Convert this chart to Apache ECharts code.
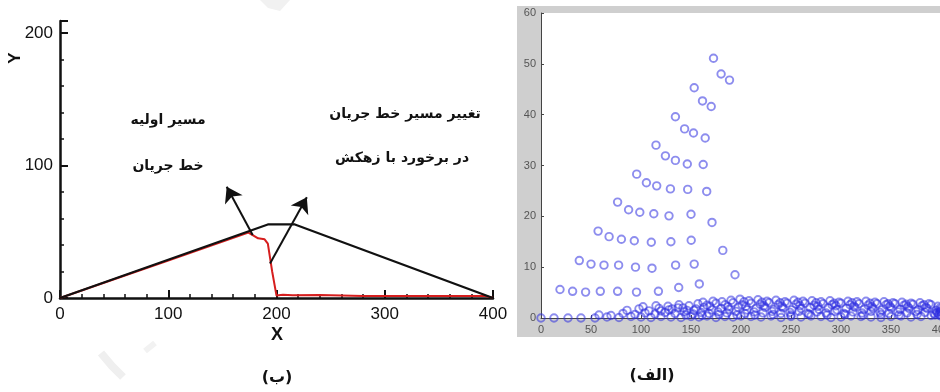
<!DOCTYPE html>
<html>
<head>
<meta charset="utf-8">
<script src="https://cdn.jsdelivr.net/npm/echarts@6/dist/echarts.min.js"></script>
<style>
  html, body { margin: 0; padding: 0; background: #fff; }
  #chart { width: 940px; height: 392px; }
</style>
</head>
<body>
<div id="chart"></div>
<script>
// Panel (ب): embankment outline and phreatic line
const damX = [0, 192, 217, 400];
const damY = [0, 55.5, 55.5, 0];
const flowX = [0, 100, 174, 178, 183, 189, 192, 196, 200, 206, 215, 240, 280, 320, 360, 392, 400];
const flowY = [0, 28.3, 49.3, 47.5, 45, 44.3, 41, 20, 1.8, 2.4, 2.0, 2.2, 1.6, 1.5, 1.5, 1.6, 0.2];
const arrowFrom = [[178, 47.5], [194, 26]];
const arrowTo = [[154, 84], [228, 76]];
const noteLeft = ['مسیر اولیه', 'خط جریان'];
const noteRight = ['تغییر مسیر خط جریان', 'در برخورد با زهکش'];

// Panel (الف): particle positions above the base
const upperPts = [
  [19, 5.6], [31.6, 5.25], [44.6, 5.1], [59.3, 5.25], [76.6, 5.25], [95.5, 5.1], [117.4, 5.25], [137.7, 6.0], [158.3, 6.7], [194, 8.5],
  [38.3, 11.3], [50, 10.6], [63, 10.4], [77.6, 10.4], [94.5, 10.0], [111, 9.8], [134.6, 10.4], [153.2, 10.6],
  [57.1, 17.1], [68.1, 16.0], [80.4, 15.5], [93.3, 15.2], [110.3, 14.9], [129.9, 15.0], [150.2, 15.3], [181.8, 13.3],
  [76.6, 22.8], [87.6, 21.3], [98.8, 20.8], [112.8, 20.5], [128, 20.1], [150, 20.4], [171, 18.8],
  [95.7, 28.3], [105.4, 26.6], [115.7, 26.0], [129.4, 25.4], [146.7, 25.3], [165.7, 24.9],
  [115, 34.0], [124.4, 31.9], [134.4, 31.0], [146.3, 30.3], [162.2, 30.2],
  [134.4, 39.6], [143.6, 37.2], [152.5, 36.4], [164.2, 35.4],
  [153.2, 45.3], [161.5, 42.7], [170.2, 41.6],
  [172.5, 51.1], [180.1, 48.0], [188.5, 46.8]
];
// Particles settled along the base
const basePts = [
  [0, 0], [13, 0], [27, 0], [40, 0], [54, 0], [66, 0.2], [78, 0.1], [90, 0.3], [100, 0.2], [110, 0.1],
  [120, 0.3], [130, 0.2], [140, 0.1], [150, 0.3], [158, 0.2], [166, 0.4], [175, 0.1], [184, 0.3], [192, 0.2], [200, 0.4],
  [210, 0.3], [220, 0.2], [230, 0.4], [240, 0.1], [250, 0.3], [260, 0.2], [270, 0.4], [280, 0.3], [290, 0.1], [300, 0.2],
  [310, 0.4], [320, 0.3], [330, 0.2], [340, 0.1], [350, 0.3], [360, 0.4], [370, 0.2], [380, 0.3], [390, 0.5], [398, 0.6],
  [58, 0.6], [70, 0.5], [82, 0.9], [94, 0.7], [104, 1.0], [114, 0.8], [124, 1.1], [134, 0.9], [143, 1.2], [152, 0.8],
  [160, 1.1], [168, 0.9], [177, 1.2], [186, 1.0], [195, 1.3], [204, 0.9], [213, 1.2], [222, 1.0], [231, 1.3], [240, 0.9],
  [249, 1.1], [258, 1.3], [267, 0.9], [276, 1.2], [285, 1.0], [294, 1.3], [303, 0.9], [312, 1.2], [321, 1.0], [330, 1.3],
  [339, 1.1], [348, 0.9], [357, 1.2], [366, 1.0], [375, 1.3], [384, 1.1], [393, 0.9], [399, 1.2],
  [86, 1.5], [98, 1.8], [108, 1.4], [118, 1.9], [128, 1.6], [137, 2.0], [146, 1.5], [155, 1.8], [163, 2.1], [171, 1.6],
  [180, 1.9], [188, 1.7], [197, 2.1], [206, 1.6], [215, 1.9], [224, 2.1], [233, 1.7], [242, 2.0], [251, 1.6], [260, 1.9],
  [269, 2.1], [278, 1.7], [287, 2.0], [296, 1.6], [305, 1.9], [314, 2.1], [323, 1.7], [332, 1.9], [341, 1.6], [350, 2.0],
  [359, 1.7], [368, 1.9], [377, 1.6], [386, 1.9], [395, 1.5], [400, 1.8],
  [102, 2.2], [115, 2.4], [127, 2.3], [138, 2.6], [148, 2.4], [157, 2.8], [166, 2.5], [175, 2.9], [184, 2.6], [192, 3.0],
  [201, 2.6], [210, 2.9], [219, 2.7], [228, 3.0], [237, 2.6], [246, 2.9], [255, 2.7], [264, 2.9], [273, 2.5], [282, 2.8],
  [291, 2.6], [300, 2.9], [309, 2.6], [318, 2.8], [327, 2.5], [336, 2.8], [345, 2.6], [354, 2.8], [363, 2.5], [372, 2.7],
  [381, 2.4], [390, 2.6], [397, 2.3],
  [162, 3.1], [172, 3.3], [181, 3.2], [190, 3.5], [199, 3.7], [208, 3.4], [217, 3.6], [226, 3.3], [235, 3.5], [244, 3.2],
  [253, 3.5], [262, 3.3], [271, 3.4], [280, 3.2], [289, 3.4], [298, 3.1], [307, 3.3], [316, 3.2], [325, 3.3], [334, 3.1],
  [343, 3.2], [352, 3.0], [361, 3.1], [370, 2.9], [379, 3.0], [388, 2.8],
  [398, 0.8], [400, 1.4], [400, 0.4], [399, 2.0], [396, 1.1],
  [145, 0.6], [153, 1.5], [161, 0.5], [169, 2.3], [178, 0.7], [187, 2.2], [196, 0.6], [205, 2.3], [214, 0.6], [223, 2.4],
  [232, 0.7], [241, 2.3], [250, 0.6], [259, 2.4], [268, 0.7], [277, 2.3], [286, 0.6], [295, 2.4], [304, 0.7], [313, 2.3],
  [322, 0.6], [331, 2.2], [340, 0.7], [349, 2.3], [358, 0.6], [367, 2.2], [376, 0.7], [385, 2.1], [394, 0.6],
  [120, 1.4], [131, 1.8], [142, 2.0], [203, 3.2], [221, 3.1], [239, 3.0], [257, 3.1], [275, 3.0], [293, 2.9], [311, 3.0],
  [329, 2.9], [347, 2.8], [365, 2.7], [383, 2.6]
];
const captionLeft = '(ب)';
const captionRight = '(الف)';

const chart = echarts.init(document.getElementById('chart'), null, { renderer: 'canvas' });

const narrow = "'Liberation Sans Narrow', 'Liberation Sans', Arial, sans-serif";
const persian = "'DejaVu Sans', sans-serif";

const leftAxisCommon = {
  axisLine: { show: true, onZero: false, lineStyle: { color: '#111', width: 2.5 } },
  axisTick: { show: true, inside: true, length: 8, lineStyle: { color: '#111', width: 2 } },
  minorTick: { show: true, splitNumber: 5, length: 4, lineStyle: { color: '#111', width: 1.5 } },
  axisLabel: { fontFamily: narrow, fontSize: 17, color: '#111' },
  splitLine: { show: false }
};

const rightAxisCommon = {
  axisLine: { show: true, onZero: false, lineStyle: { color: '#444', width: 1 } },
  axisTick: { show: true, inside: true, length: 3, lineStyle: { color: '#444', width: 1 } },
  axisLabel: { fontFamily: "'Liberation Sans', Arial, sans-serif", fontSize: 11, color: '#555' },
  splitLine: { show: false }
};

const option = {
  animation: false,
  backgroundColor: '#fff',
  grid: [
    { left: 60, top: 21, width: 433, height: 277, containLabel: false, outerBoundsMode: 'none' },
    { left: 541, top: 13, width: 400, height: 305, containLabel: false, outerBoundsMode: 'none',
      show: true, backgroundColor: '#fff', borderWidth: 0 }
  ],
  xAxis: [
    Object.assign({ gridIndex: 0, type: 'value', min: 0, max: 400, interval: 100 }, leftAxisCommon,
      { axisLabel: Object.assign({}, leftAxisCommon.axisLabel, { margin: 8 }) }),
    Object.assign({ gridIndex: 1, type: 'value', min: 0, max: 400, interval: 50 }, rightAxisCommon,
      { axisLabel: Object.assign({}, rightAxisCommon.axisLabel, { margin: 6 }) })
  ],
  yAxis: [
    Object.assign({ gridIndex: 0, type: 'value', min: 0, max: 209, interval: 100 }, leftAxisCommon,
      { axisLabel: Object.assign({}, leftAxisCommon.axisLabel, { margin: 7 }) }),
    Object.assign({ gridIndex: 1, type: 'value', min: 0, max: 60, interval: 10 }, rightAxisCommon,
      { axisLabel: Object.assign({}, rightAxisCommon.axisLabel, { margin: 5 }) })
  ],
  graphic: [
    // gray frame around the particle plot
    { type: 'rect', z: -10, shape: { x: 517, y: 6, width: 423, height: 331 }, style: { fill: '#cfcfcf' } },
    // faint marks on the page background
    { type: 'polygon', z: -5, shape: { points: [[260, 0], [290, 0], [280, 11], [268, 8]] }, style: { fill: '#f1f1f1' } },
    { type: 'polyline', z: -5, shape: { points: [[101, 353], [112, 366], [123, 377]] }, style: { stroke: '#efefef', lineWidth: 8, fill: null } },
    { type: 'polyline', z: -5, shape: { points: [[145, 351], [155, 343]] }, style: { stroke: '#f2f2f2', lineWidth: 6, fill: null } },
    // axis titles
    { type: 'text', x: 15, y: 58, rotation: Math.PI / 2, style: { text: 'Y', font: "bold 17px " + narrow, fill: '#111', align: 'center', verticalAlign: 'middle' } },
    { type: 'text', x: 277, y: 335, style: { text: 'X', font: "bold 18px " + narrow, fill: '#111', align: 'center', verticalAlign: 'middle' } },
    // notes
    { type: 'text', x: 168, y: 120, style: { text: noteLeft[0], font: "bold 14px " + persian, fill: '#111', align: 'center', verticalAlign: 'middle' } },
    { type: 'text', x: 168, y: 166, style: { text: noteLeft[1], font: "bold 14px " + persian, fill: '#111', align: 'center', verticalAlign: 'middle' } },
    { type: 'text', x: 405, y: 114, style: { text: noteRight[0], font: "bold 14px " + persian, fill: '#111', align: 'center', verticalAlign: 'middle' } },
    { type: 'text', x: 402, y: 158, style: { text: noteRight[1], font: "bold 14px " + persian, fill: '#111', align: 'center', verticalAlign: 'middle' } },
    // panel captions
    { type: 'text', x: 277, y: 378, style: { text: captionLeft, font: "bold 16px " + persian, fill: '#111', align: 'center', verticalAlign: 'middle' } },
    { type: 'text', x: 652, y: 376, style: { text: captionRight, font: "bold 16px " + persian, fill: '#111', align: 'center', verticalAlign: 'middle' } }
  ],
  series: [
    {
      type: 'line', xAxisIndex: 0, yAxisIndex: 0, z: 3,
      data: flowX.map((x, i) => [x, flowY[i]]),
      symbol: 'none', lineStyle: { color: '#d61e1e', width: 2 }
    },
    {
      type: 'line', xAxisIndex: 0, yAxisIndex: 0, z: 4,
      data: damX.map((x, i) => [x, damY[i]]),
      symbol: 'none', lineStyle: { color: '#111', width: 2.2 }
    },
    {
      type: 'lines', coordinateSystem: 'cartesian2d', xAxisIndex: 0, yAxisIndex: 0, z: 5,
      symbol: ['none', 'arrow'], symbolSize: 15,
      lineStyle: { color: '#111', width: 2, opacity: 1 },
      data: arrowFrom.map((p, i) => ({ coords: [p, arrowTo[i]] }))
    },
    {
      type: 'scatter', xAxisIndex: 1, yAxisIndex: 1, z: 3,
      data: basePts.concat(upperPts),
      symbol: 'circle', symbolSize: 7.5,
      itemStyle: { color: 'rgba(0,0,0,0)', borderColor: 'rgba(44,44,224,0.68)', borderWidth: 1.9 }
    }
  ]
};

chart.setOption(option);
</script>
</body>
</html>
